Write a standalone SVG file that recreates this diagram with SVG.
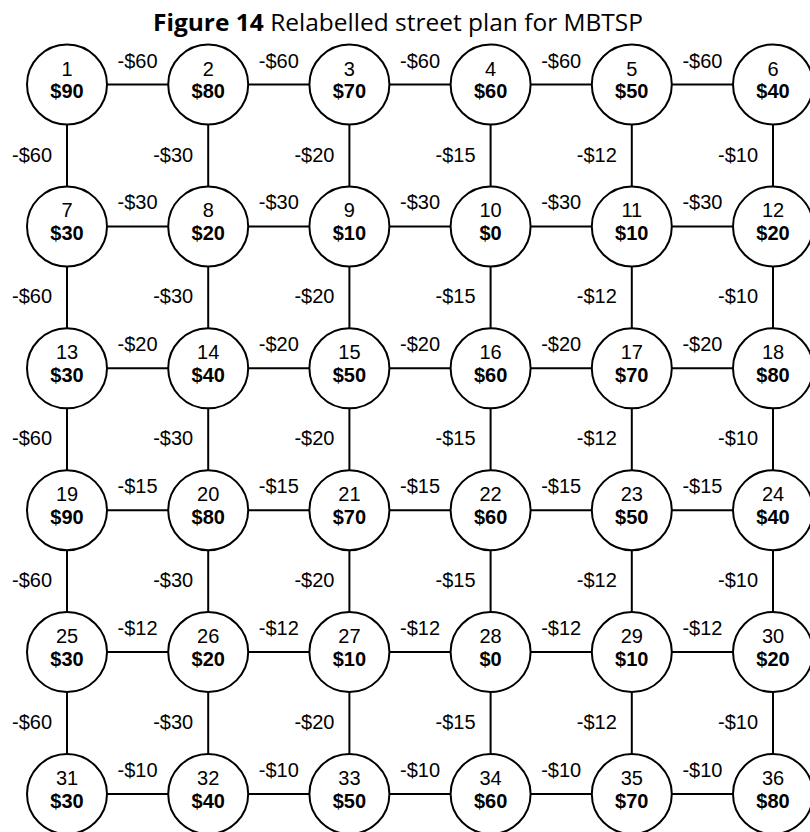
<svg xmlns="http://www.w3.org/2000/svg" width="810" height="832" viewBox="0 0 810 832">
<style>
.n circle{fill:#fff;stroke:#000;stroke-width:2}
.id{font-family:"Liberation Sans",Arial,sans-serif;font-size:20px;text-anchor:middle;fill:#000}
.v{font-family:"Liberation Sans",Arial,sans-serif;font-size:20px;font-weight:bold;text-anchor:middle;fill:#000}
.e line{stroke:#000;stroke-width:2}
.l{font-family:"Liberation Sans",Arial,sans-serif;font-size:20px;text-anchor:middle;fill:#000}
.t{font-family:"Open Sans","Liberation Sans",sans-serif;font-size:23px;fill:#000}
</style>
<rect width="810" height="832" fill="#fff"/>
<text class="t" x="153" y="31" textLength="490" lengthAdjust="spacingAndGlyphs"><tspan font-weight="bold">Figure 14</tspan> Relabelled street plan for MBTSP</text>
<g id="connectors" class="e">
<line x1="67" y1="84.5" x2="773" y2="84.5"/>
<line x1="67" y1="226.4" x2="773" y2="226.4"/>
<line x1="67" y1="368.3" x2="773" y2="368.3"/>
<line x1="67" y1="510.2" x2="773" y2="510.2"/>
<line x1="67" y1="652.1" x2="773" y2="652.1"/>
<line x1="67" y1="794" x2="773" y2="794"/>
<line x1="67" y1="84.5" x2="67" y2="794"/>
<line x1="208.2" y1="84.5" x2="208.2" y2="794"/>
<line x1="349.4" y1="84.5" x2="349.4" y2="794"/>
<line x1="490.6" y1="84.5" x2="490.6" y2="794"/>
<line x1="631.8" y1="84.5" x2="631.8" y2="794"/>
<line x1="773" y1="84.5" x2="773" y2="794"/>
</g>
<g id="edge-labels" class="l">
<text x="137.6" y="67.5">-$60</text><text x="278.8" y="67.5">-$60</text><text x="420" y="67.5">-$60</text><text x="561.2" y="67.5">-$60</text><text x="702.4" y="67.5">-$60</text>
<text x="137.6" y="209.4">-$30</text><text x="278.8" y="209.4">-$30</text><text x="420" y="209.4">-$30</text><text x="561.2" y="209.4">-$30</text><text x="702.4" y="209.4">-$30</text>
<text x="137.6" y="351.3">-$20</text><text x="278.8" y="351.3">-$20</text><text x="420" y="351.3">-$20</text><text x="561.2" y="351.3">-$20</text><text x="702.4" y="351.3">-$20</text>
<text x="137.6" y="493.2">-$15</text><text x="278.8" y="493.2">-$15</text><text x="420" y="493.2">-$15</text><text x="561.2" y="493.2">-$15</text><text x="702.4" y="493.2">-$15</text>
<text x="137.6" y="635.1">-$12</text><text x="278.8" y="635.1">-$12</text><text x="420" y="635.1">-$12</text><text x="561.2" y="635.1">-$12</text><text x="702.4" y="635.1">-$12</text>
<text x="137.6" y="777">-$10</text><text x="278.8" y="777">-$10</text><text x="420" y="777">-$10</text><text x="561.2" y="777">-$10</text><text x="702.4" y="777">-$10</text>
<text x="32" y="161.5">-$60</text><text x="32" y="303.4">-$60</text><text x="32" y="445.3">-$60</text><text x="32" y="587.2">-$60</text><text x="32" y="729.1">-$60</text>
<text x="173.2" y="161.5">-$30</text><text x="173.2" y="303.4">-$30</text><text x="173.2" y="445.3">-$30</text><text x="173.2" y="587.2">-$30</text><text x="173.2" y="729.1">-$30</text>
<text x="314.4" y="161.5">-$20</text><text x="314.4" y="303.4">-$20</text><text x="314.4" y="445.3">-$20</text><text x="314.4" y="587.2">-$20</text><text x="314.4" y="729.1">-$20</text>
<text x="455.6" y="161.5">-$15</text><text x="455.6" y="303.4">-$15</text><text x="455.6" y="445.3">-$15</text><text x="455.6" y="587.2">-$15</text><text x="455.6" y="729.1">-$15</text>
<text x="596.8" y="161.5">-$12</text><text x="596.8" y="303.4">-$12</text><text x="596.8" y="445.3">-$12</text><text x="596.8" y="587.2">-$12</text><text x="596.8" y="729.1">-$12</text>
<text x="738" y="161.5">-$10</text><text x="738" y="303.4">-$10</text><text x="738" y="445.3">-$10</text><text x="738" y="587.2">-$10</text><text x="738" y="729.1">-$10</text>
</g>
<g id="n1" class="n" transform="translate(67,84.5)"><circle r="40"/><text class="id" y="-9">1</text><text class="v" y="13.5">$90</text></g>
<g id="n2" class="n" transform="translate(208.2,84.5)"><circle r="40"/><text class="id" y="-9">2</text><text class="v" y="13.5">$80</text></g>
<g id="n3" class="n" transform="translate(349.4,84.5)"><circle r="40"/><text class="id" y="-9">3</text><text class="v" y="13.5">$70</text></g>
<g id="n4" class="n" transform="translate(490.6,84.5)"><circle r="40"/><text class="id" y="-9">4</text><text class="v" y="13.5">$60</text></g>
<g id="n5" class="n" transform="translate(631.8,84.5)"><circle r="40"/><text class="id" y="-9">5</text><text class="v" y="13.5">$50</text></g>
<g id="n6" class="n" transform="translate(773,84.5)"><circle r="40"/><text class="id" y="-9">6</text><text class="v" y="13.5">$40</text></g>
<g id="n7" class="n" transform="translate(67,226.4)"><circle r="40"/><text class="id" y="-9">7</text><text class="v" y="13.5">$30</text></g>
<g id="n8" class="n" transform="translate(208.2,226.4)"><circle r="40"/><text class="id" y="-9">8</text><text class="v" y="13.5">$20</text></g>
<g id="n9" class="n" transform="translate(349.4,226.4)"><circle r="40"/><text class="id" y="-9">9</text><text class="v" y="13.5">$10</text></g>
<g id="n10" class="n" transform="translate(490.6,226.4)"><circle r="40"/><text class="id" y="-9">10</text><text class="v" y="13.5">$0</text></g>
<g id="n11" class="n" transform="translate(631.8,226.4)"><circle r="40"/><text class="id" y="-9">11</text><text class="v" y="13.5">$10</text></g>
<g id="n12" class="n" transform="translate(773,226.4)"><circle r="40"/><text class="id" y="-9">12</text><text class="v" y="13.5">$20</text></g>
<g id="n13" class="n" transform="translate(67,368.3)"><circle r="40"/><text class="id" y="-9">13</text><text class="v" y="13.5">$30</text></g>
<g id="n14" class="n" transform="translate(208.2,368.3)"><circle r="40"/><text class="id" y="-9">14</text><text class="v" y="13.5">$40</text></g>
<g id="n15" class="n" transform="translate(349.4,368.3)"><circle r="40"/><text class="id" y="-9">15</text><text class="v" y="13.5">$50</text></g>
<g id="n16" class="n" transform="translate(490.6,368.3)"><circle r="40"/><text class="id" y="-9">16</text><text class="v" y="13.5">$60</text></g>
<g id="n17" class="n" transform="translate(631.8,368.3)"><circle r="40"/><text class="id" y="-9">17</text><text class="v" y="13.5">$70</text></g>
<g id="n18" class="n" transform="translate(773,368.3)"><circle r="40"/><text class="id" y="-9">18</text><text class="v" y="13.5">$80</text></g>
<g id="n19" class="n" transform="translate(67,510.2)"><circle r="40"/><text class="id" y="-9">19</text><text class="v" y="13.5">$90</text></g>
<g id="n20" class="n" transform="translate(208.2,510.2)"><circle r="40"/><text class="id" y="-9">20</text><text class="v" y="13.5">$80</text></g>
<g id="n21" class="n" transform="translate(349.4,510.2)"><circle r="40"/><text class="id" y="-9">21</text><text class="v" y="13.5">$70</text></g>
<g id="n22" class="n" transform="translate(490.6,510.2)"><circle r="40"/><text class="id" y="-9">22</text><text class="v" y="13.5">$60</text></g>
<g id="n23" class="n" transform="translate(631.8,510.2)"><circle r="40"/><text class="id" y="-9">23</text><text class="v" y="13.5">$50</text></g>
<g id="n24" class="n" transform="translate(773,510.2)"><circle r="40"/><text class="id" y="-9">24</text><text class="v" y="13.5">$40</text></g>
<g id="n25" class="n" transform="translate(67,652.1)"><circle r="40"/><text class="id" y="-9">25</text><text class="v" y="13.5">$30</text></g>
<g id="n26" class="n" transform="translate(208.2,652.1)"><circle r="40"/><text class="id" y="-9">26</text><text class="v" y="13.5">$20</text></g>
<g id="n27" class="n" transform="translate(349.4,652.1)"><circle r="40"/><text class="id" y="-9">27</text><text class="v" y="13.5">$10</text></g>
<g id="n28" class="n" transform="translate(490.6,652.1)"><circle r="40"/><text class="id" y="-9">28</text><text class="v" y="13.5">$0</text></g>
<g id="n29" class="n" transform="translate(631.8,652.1)"><circle r="40"/><text class="id" y="-9">29</text><text class="v" y="13.5">$10</text></g>
<g id="n30" class="n" transform="translate(773,652.1)"><circle r="40"/><text class="id" y="-9">30</text><text class="v" y="13.5">$20</text></g>
<g id="n31" class="n" transform="translate(67,794)"><circle r="40"/><text class="id" y="-9">31</text><text class="v" y="13.5">$30</text></g>
<g id="n32" class="n" transform="translate(208.2,794)"><circle r="40"/><text class="id" y="-9">32</text><text class="v" y="13.5">$40</text></g>
<g id="n33" class="n" transform="translate(349.4,794)"><circle r="40"/><text class="id" y="-9">33</text><text class="v" y="13.5">$50</text></g>
<g id="n34" class="n" transform="translate(490.6,794)"><circle r="40"/><text class="id" y="-9">34</text><text class="v" y="13.5">$60</text></g>
<g id="n35" class="n" transform="translate(631.8,794)"><circle r="40"/><text class="id" y="-9">35</text><text class="v" y="13.5">$70</text></g>
<g id="n36" class="n" transform="translate(773,794)"><circle r="40"/><text class="id" y="-9">36</text><text class="v" y="13.5">$80</text></g>
</svg>
